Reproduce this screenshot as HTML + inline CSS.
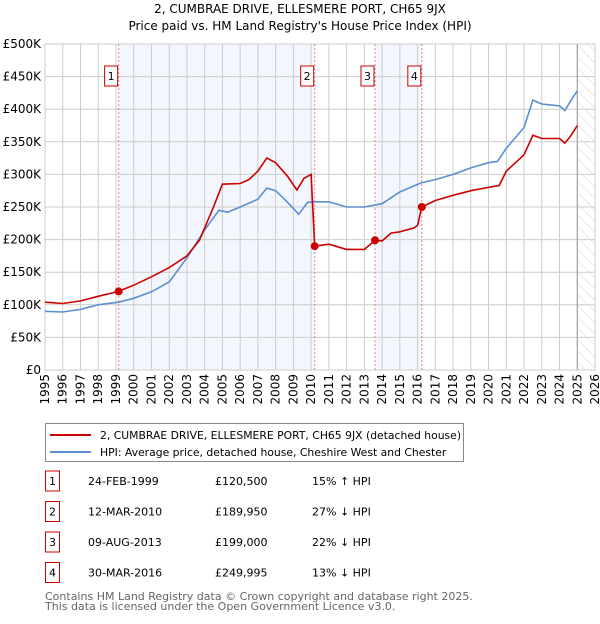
<!DOCTYPE html>
<html><head><meta charset="utf-8"><style>
body{margin:0;background:#fff;width:600px;height:620px;overflow:hidden;font-family:"DejaVu Sans","Liberation Sans",sans-serif;}
svg text{font-family:"DejaVu Sans","Liberation Sans",sans-serif;}
</style></head><body>
<svg id="c" width="600" height="620">
<text x="300" y="13" text-anchor="middle" font-size="12" fill="#000">2, CUMBRAE DRIVE, ELLESMERE PORT, CH65 9JX</text>
<text x="300" y="30" text-anchor="middle" font-size="12" fill="#000">Price paid vs. HM Land Registry's House Price Index (HPI)</text>
<defs><pattern id="hatch" width="8" height="8" patternUnits="userSpaceOnUse" patternTransform="rotate(-45)"><line x1="0" y1="0" x2="0" y2="8" stroke="#d4d4d4" stroke-width="1"/></pattern></defs>
<g id="plot"></g>
<g>
<rect x="45.5" y="423.5" width="418" height="38" fill="#fff" stroke="#888"/>
<line x1="50" y1="435" x2="91" y2="435" stroke="#cc0000" stroke-width="2"/>
<text x="100" y="439" font-size="10.8">2, CUMBRAE DRIVE, ELLESMERE PORT, CH65 9JX (detached house)</text>
<line x1="50" y1="452" x2="91" y2="452" stroke="#5b8fd0" stroke-width="2"/>
<text x="100" y="456" font-size="10.8">HPI: Average price, detached house, Cheshire West and Chester</text>
</g>
<g id="tbl" font-size="11"></g>
<text x="45" y="600" font-size="11" fill="#666">Contains HM Land Registry data © Crown copyright and database right 2025.</text>
<text x="45" y="610" font-size="11" fill="#666">This data is licensed under the Open Government Licence v3.0.</text>
</svg>
<script>
const yTicks=[0,50,100,150,200,250,300,350,400,450,500];
const years=[1995,1996,1997,1998,1999,2000,2001,2002,2003,2004,2005,2006,2007,2008,2009,2010,2011,2012,2013,2014,2015,2016,2017,2018,2019,2020,2021,2022,2023,2024,2025,2026];
const hpiT=[1995,1996,1997,1998,1999.15,2000,2001,2002,2003,2004,2004.8,2005.3,2006,2007,2007.5,2008,2008.5,2009.3,2009.8,2010.2,2011,2012,2013,2014,2015,2016.2,2017,2018,2019,2020,2020.5,2021,2022,2022.5,2023,2024,2024.3,2024.8,2025.0];
const hpiV=[90,89,93,100,104,110,120,135,172,215,245,242,250,262,279,275,262,239,257,258,258,250,250,255,273,287,292,300,310,318,320,340,372,414,408,405,398,420,428];
const ppT=[1995,1996,1997,1998,1999.15,2000,2001,2002,2003,2003.7,2004.5,2005,2006,2006.5,2007,2007.5,2008,2008.7,2009.2,2009.6,2010.0,2010.2,2011,2012,2013,2013.6,2014,2014.5,2015,2015.8,2016.0,2016.24,2017,2018,2019,2020,2020.6,2021,2022,2022.5,2023,2024,2024.3,2024.6,2025.0];
const ppV=[104,102,106,113,120.5,130,143,157,175,199,250,285,286,292,305,325,318,296,276,294,300,189.95,193,185,185,199,198,210,212,218,222,250,260,268,275,280,283,305,330,360,355,355,348,358,375];
const saleT=[1999.15,2010.2,2013.6,2016.24];
const saleV=[120.5,189.95,199,249.995];
const saleLabels=["1","2","3","4"];
const saleDates=["24-FEB-1999","12-MAR-2010","09-AUG-2013","30-MAR-2016"];
const salePrices=["£120,500","£189,950","£199,000","£249,995"];
const saleHpi=["15% ↑ HPI","27% ↓ HPI","22% ↓ HPI","13% ↓ HPI"];
const X0=45,X1=595,Y0=370,Y1=44;
const xs=t=>X0+(t-1995)*(X1-X0)/31;
const ys=v=>Y0-v*(Y0-Y1)/500;
const NS="http://www.w3.org/2000/svg";
const g=document.getElementById('plot');
function mk(tag,a,p){const e=document.createElementNS(NS,tag);for(const k in a)e.setAttribute(k,a[k]);(p||g).appendChild(e);return e;}
mk('rect',{x:X0,y:Y1,width:X1-X0,height:Y0-Y1,fill:'#fff'});
for(let i=0;i<saleT.length;i+=2){const r=mk('rect',{x:xs(saleT[i]),y:Y1,width:xs(saleT[i+1])-xs(saleT[i]),height:Y0-Y1,fill:'#eef3fc',opacity:0.7});

}
const h=mk('rect',{x:xs(2025),y:Y1,width:X1-xs(2025),height:Y0-Y1,fill:'url(#hatch)'});


years.forEach(y=>{mk('line',{x1:xs(y),x2:xs(y),y1:Y1,y2:Y0,stroke:'#ccc'});
const t=mk('text',{x:0,y:0,'font-size':12,'text-anchor':'end',transform:`translate(${xs(y)+4},374) rotate(-90)`});t.textContent=y;

});
yTicks.forEach(v=>{mk('line',{x1:X0,x2:X1,y1:ys(v),y2:ys(v),stroke:'#ccc'});
const t=mk('text',{x:41,y:ys(v)+4,'font-size':12,'text-anchor':'end'});t.textContent=v===0?'£0':'£'+v+'K';

});
mk('line',{x1:xs(2025),x2:xs(2025),y1:Y1,y2:Y0,stroke:'#999'});
mk('rect',{x:X0,y:Y1,width:X1-X0,height:Y0-Y1,fill:'none',stroke:'#ccc'});
saleT.forEach((t,i)=>{mk('line',{x1:xs(t),x2:xs(t),y1:Y1,y2:Y0,stroke:'#f08080','stroke-dasharray':'2,2'});
const r=mk('rect',{x:xs(t)-14,y:66,width:13,height:20,fill:'#fff',stroke:'#cc0000'});


const tx=mk('text',{x:xs(t)-7.5,y:80,'font-size':11,'text-anchor':'middle'});tx.textContent=saleLabels[i];});
function line(T,V,col,name){const d=T.map((t,i)=>(i?'L':'M')+xs(t).toFixed(1)+','+ys(V[i]).toFixed(1)).join('');
const p=mk('path',{d:d,fill:'none',stroke:col,'stroke-width':1.6});

}
line(hpiT,hpiV,'#5b8fd0','hpi-line');
line(ppT,ppV,'#cc0000','price-paid-line');
saleT.forEach((t,i)=>{const c=mk('circle',{cx:xs(t),cy:ys(saleV[i]),r:4,fill:'#cc0000'});

});
const tb=document.getElementById('tbl');
saleT.forEach((t,i)=>{const y=482+i*30.5;
const r=mk('rect',{x:45.5,y:y-11,width:14,height:20,fill:'#fff',stroke:'#cc0000'},tb);


const a=mk('text',{x:49,y:y+3},tb);a.textContent=saleLabels[i];
const b=mk('text',{x:88,y:y+3},tb);b.textContent=saleDates[i];


const c=mk('text',{x:215,y:y+3},tb);c.textContent=salePrices[i];


const d=mk('text',{x:312,y:y+3},tb);d.textContent=saleHpi[i];

});
</script>
</body></html>
